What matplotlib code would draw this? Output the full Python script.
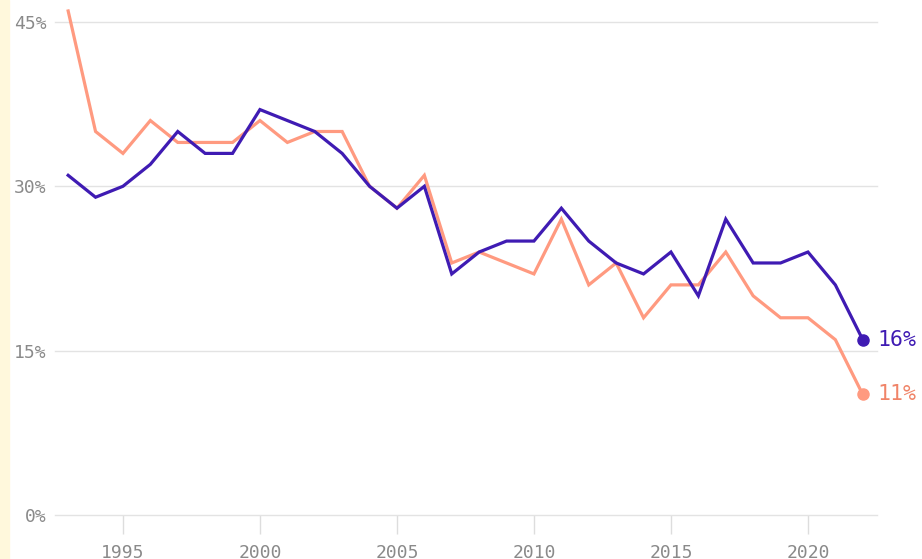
import matplotlib.pyplot as plt
from matplotlib.patches import Rectangle

years = list(range(1993, 2023))
blue_vals = [31, 29, 30, 32, 35, 33, 33, 37, 36, 35, 33, 30, 28, 30, 22,
             24, 25, 25, 28, 25, 23, 22, 24, 20, 27, 23, 23, 24, 21, 16]
orange_vals = [46, 35, 33, 36, 34, 34, 34, 36, 34, 35, 35, 30, 28, 31, 23,
               24, 23, 22, 27, 21, 23, 18, 21, 21, 24, 20, 18, 18, 16, 11]
y_ticks = [0, 15, 30, 45]
x_ticks = [1995, 2000, 2005, 2010, 2015, 2020]

blue = '#3f1bb3'
orange = '#ff9a80'
orange_text = '#f08468'
grey = '#8a8a8a'

fig = plt.figure(figsize=(9.22, 5.59), dpi=100)
fig.patches.append(Rectangle((0, 0), 9 / 922, 1, transform=fig.transFigure,
                             color='#fff8dc', zorder=0))
ax = fig.add_axes([55 / 922, 44 / 559, 822 / 922, 515 / 559])

ax.plot(years, orange_vals, color=orange, lw=2.3, solid_joinstyle='miter', zorder=3)
ax.plot(years, blue_vals, color=blue, lw=2.3, solid_joinstyle='miter', zorder=4)
ax.plot(years[-1], orange_vals[-1], 'o', color=orange, ms=8, zorder=5)
ax.plot(years[-1], blue_vals[-1], 'o', color=blue, ms=8, zorder=5)

ax.text(years[-1] + 0.55, blue_vals[-1], f'{blue_vals[-1]}%', color=blue,
        fontsize=15.5, family='DejaVu Sans Mono', va='center', ha='left')
ax.text(years[-1] + 0.55, orange_vals[-1], f'{orange_vals[-1]}%', color=orange_text,
        fontsize=15.5, family='DejaVu Sans Mono', va='center', ha='left')

ax.set_xlim(1992.52, 2022.52)
ax.set_ylim(0, 47.0)
ax.set_yticks(y_ticks)
ax.set_yticklabels([f'{v}%' for v in y_ticks])
ax.set_xticks(x_ticks)
ax.set_xticklabels([str(v) for v in x_ticks])
ax.grid(axis='y', color='#e3e3e3', lw=1)
for gl in ax.get_ygridlines():
    gl.set_clip_on(False)
ax.set_axisbelow(True)
for s in ax.spines.values():
    s.set_visible(False)
ax.tick_params(axis='y', length=0, pad=6, labelsize=13, labelcolor=grey)
ax.tick_params(axis='x', length=14, width=1, color='#dddddd', pad=7,
               labelsize=13, labelcolor=grey)
for lab in ax.get_xticklabels() + ax.get_yticklabels():
    lab.set_family('DejaVu Sans Mono')

fig.savefig('out.png', dpi=100)
